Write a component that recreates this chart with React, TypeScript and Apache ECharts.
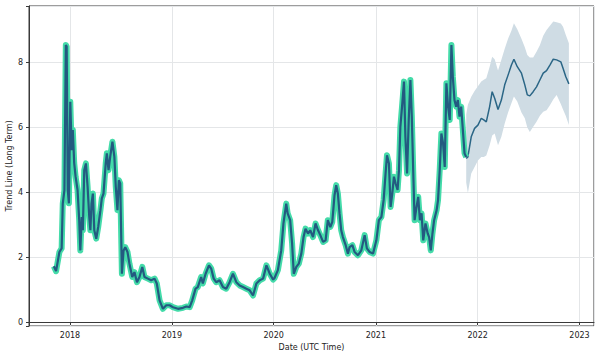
import React, { useEffect, useRef } from 'react';
import * as echarts from 'echarts';

const histDates = [
  '2017-11-04','2017-11-12','2017-11-24','2017-12-02','2017-12-06','2017-12-12','2017-12-17','2017-12-20','2017-12-24','2017-12-28',
  '2018-01-02','2018-01-07','2018-01-11','2018-01-16','2018-01-21','2018-01-28','2018-02-03','2018-02-07','2018-02-12','2018-02-16',
  '2018-02-21','2018-02-27','2018-03-05','2018-03-11','2018-03-15','2018-03-19','2018-03-24','2018-03-29','2018-04-05','2018-04-12',
  '2018-04-20','2018-04-25','2018-05-01','2018-05-09','2018-05-13','2018-05-19','2018-05-25','2018-06-02','2018-06-09','2018-06-14',
  '2018-06-20','2018-06-25','2018-06-30','2018-07-06','2018-07-12','2018-07-18','2018-07-26','2018-08-02','2018-08-12','2018-08-20',
  '2018-08-29','2018-09-07','2018-09-17','2018-09-25','2018-10-07','2018-10-19','2018-10-31','2018-11-08','2018-11-18','2018-11-30',
  '2018-12-12','2018-12-24','2019-01-05','2019-01-23','2019-02-10','2019-02-22','2019-03-06','2019-03-15','2019-03-27','2019-04-04',
  '2019-04-16','2019-04-22','2019-05-02','2019-05-14','2019-05-22','2019-05-31','2019-06-09','2019-06-21','2019-07-03','2019-07-15',
  '2019-07-27','2019-08-08','2019-08-20','2019-09-01','2019-09-13','2019-09-25','2019-10-07','2019-10-19','2019-10-31','2019-11-12',
  '2019-11-24','2019-12-06','2019-12-18','2019-12-30','2020-01-04','2020-01-16','2020-01-28','2020-02-05','2020-02-15','2020-02-20',
  '2020-02-29','2020-03-07','2020-03-13','2020-03-22','2020-03-31','2020-04-09','2020-04-17','2020-04-24','2020-05-03','2020-05-11',
  '2020-05-21','2020-05-30','2020-06-08','2020-06-16','2020-06-26','2020-07-05','2020-07-13','2020-07-22','2020-07-29','2020-08-06',
  '2020-08-12','2020-08-18','2020-08-24','2020-08-30','2020-09-05','2020-09-15','2020-09-23','2020-09-29','2020-10-09','2020-10-17',
  '2020-10-29','2020-11-10','2020-11-22','2020-11-30','2020-12-10','2020-12-22','2021-01-03','2021-01-12','2021-01-21','2021-01-29',
  '2021-02-05','2021-02-10','2021-02-17','2021-02-23','2021-03-01','2021-03-07','2021-03-13','2021-03-20','2021-03-25','2021-03-30',
  '2021-04-05','2021-04-12','2021-04-17','2021-04-23','2021-04-29','2021-05-05','2021-05-10','2021-05-15','2021-05-20','2021-05-27',
  '2021-06-02','2021-06-08','2021-06-14','2021-06-20','2021-06-28','2021-07-06','2021-07-11','2021-07-17','2021-07-23','2021-07-29',
  '2021-08-07','2021-08-12','2021-08-18','2021-08-24','2021-08-30','2021-09-05','2021-09-11','2021-09-17','2021-09-23','2021-09-29',
  '2021-10-04','2021-10-10','2021-10-16','2021-10-22','2021-10-28','2021-11-03','2021-11-09','2021-11-15','2021-11-21'
];
const histValues = [
  1.72,1.57,2.16,2.27,3.65,4.07,8.54,8.49,4.07,3.66,
  6.79,5.3,5.92,4.9,4.48,4.07,3.14,2.21,3.24,2.83,
  4.68,4.89,4.17,3.24,2.83,3.65,3.96,2.83,2.57,2.93,
  3.45,3.81,3.96,4.89,5.2,4.68,5.09,5.56,5.09,4.17,
  3.45,4.37,4.27,1.49,2.21,2.31,2.16,1.8,1.39,1.54,
  1.23,1.39,1.7,1.39,1.34,1.29,1.34,1.19,0.67,0.41,
  0.52,0.52,0.46,0.41,0.44,0.48,0.46,0.67,1.03,1.08,
  1.39,1.19,1.49,1.75,1.65,1.34,1.23,1.29,1.08,1.03,
  1.23,1.49,1.23,1.13,1.08,1.03,0.98,0.82,1.19,1.29,
  1.34,1.75,1.49,1.31,1.36,1.6,2.21,3.04,3.65,3.35,
  3.14,2.42,1.49,1.7,1.8,2.11,2.62,2.88,2.73,2.83,
  2.62,3.04,2.83,2.68,2.47,2.52,3.14,2.93,3.09,3.91,
  4.22,3.96,3.35,2.83,2.62,2.37,2.11,2.31,2.37,2.16,
  2.06,2.21,2.68,2.27,2.16,2.11,2.52,3.14,3.24,3.76,
  4.58,5.14,4.89,3.55,3.96,4.48,4.27,4.07,4.68,6.02,
  6.64,7.41,5.71,4.58,6.23,7.46,6.33,4.68,3.14,3.55,
  3.86,3.14,3.35,2.52,3.04,2.73,2.62,2.21,2.73,3.14,
  3.45,3.76,4.68,5.81,5.51,4.78,7.36,6.64,6.23,8.54,
  7.56,6.84,6.64,6.84,6.33,6.64,5.92,5.2,5.09
];

const fcDates = [
  '2021-11-21','2021-11-27','2021-12-09','2021-12-21','2022-01-02','2022-01-14','2022-01-23','2022-02-01','2022-02-13','2022-02-22',
  '2022-03-03','2022-03-15','2022-03-27','2022-04-08','2022-04-20','2022-05-02','2022-05-11','2022-05-23','2022-06-07','2022-06-19',
  '2022-06-28','2022-07-07','2022-07-19','2022-07-31','2022-08-12','2022-08-24','2022-09-05','2022-09-17','2022-09-29','2022-10-11',
  '2022-10-26','2022-11-03','2022-11-13','2022-11-24'
];
const fcValues = [
  5.04,5.09,5.71,5.97,6.07,6.28,6.23,6.17,6.64,7.1,
  6.9,6.55,6.84,7.31,7.61,7.92,8.1,7.87,7.67,7.31,
  7.0,6.97,7.1,7.25,7.46,7.67,7.75,7.92,8.1,8.08,
  8.02,7.82,7.56,7.34
];
const fcUpper = [
  6.4,6.7,6.94,7.12,7.27,7.41,7.47,7.51,7.87,8.18,
  8.1,7.75,8.08,8.42,8.73,8.98,9.21,9.02,8.73,8.47,
  8.23,8.15,8.15,8.33,8.53,8.82,9.0,9.13,9.26,9.24,
  9.2,9.1,8.85,8.59
];
const fcLower = [
  4.3,3.98,4.58,4.78,4.98,5.09,5.09,5.13,5.45,5.75,
  5.81,5.45,5.71,6.12,6.46,6.74,6.95,6.8,6.46,6.28,
  6.0,5.86,6.02,6.17,6.36,6.48,6.53,6.68,6.86,7.0,
  6.72,6.55,6.35,6.07
];

const xMin = '2017-08-07';
const xMax = '2023-02-22';
const yMin = -0.12;
const yMax = 9.74;

const FONT = 'DejaVu Sans';

export default function App() {
  const ref = useRef<HTMLDivElement>(null);
  useEffect(() => {
    if (!ref.current) return;
    const chart = echarts.init(ref.current, null, { renderer: 'svg' });
    const hist = histDates.map((d, i) => [d, histValues[i]]);
    const fc = fcDates.map((d, i) => [d, fcValues[i]]);
    const low = fcDates.map((d, i) => [d, fcLower[i]]);
    const span = fcDates.map((d, i) => [d, +(fcUpper[i] - fcLower[i]).toFixed(3)]);
    const year = 365 * 24 * 3600 * 1000;
    chart.setOption({
      animation: false,
      backgroundColor: '#ffffff',
      textStyle: { fontFamily: FONT },
      grid: {
        left: 29, right: 6, top: 6, bottom: 32,
        containLabel: false,
        outerBoundsMode: 'none',
        show: true, borderColor: '#3a3a3a', borderWidth: 1, backgroundColor: 'transparent',
      },
      xAxis: {
        type: 'time',
        min: xMin,
        max: xMax,
        minInterval: year,
        maxInterval: year * 1.01,
        name: 'Date (UTC Time)',
        nameLocation: 'middle',
        nameGap: 15,
        nameTextStyle: { fontSize: 8, color: '#222', fontFamily: FONT },
        axisLine: { show: true, lineStyle: { color: '#3a3a3a', width: 1 } },
        axisTick: { show: true, length: 3, lineStyle: { color: '#3a3a3a' } },
        axisLabel: {
          fontSize: 8, color: '#222', fontFamily: FONT, margin: 5,
          showMinLabel: false, showMaxLabel: false,
          formatter: '{yyyy}',
        },
        splitLine: { show: true, lineStyle: { color: '#e4e6e8', width: 1 } },
      },
      yAxis: {
        type: 'value',
        min: yMin,
        max: yMax,
        splitNumber: 5,
        name: 'Trend Line (Long Term)',
        nameLocation: 'middle',
        nameGap: 16,
        nameMoveOverlap: false,
        nameTextStyle: { fontSize: 8, color: '#222', fontFamily: FONT },
        axisLine: { show: true, lineStyle: { color: '#3a3a3a', width: 1 } },
        axisTick: { show: true, length: 3, lineStyle: { color: '#3a3a3a' } },
        axisLabel: {
          fontSize: 8, color: '#222', fontFamily: FONT, margin: 6,
          formatter: (v: number) => (Math.abs(v - Math.round(v)) < 1e-6 ? String(Math.round(v)) : ''),
        },
        splitLine: { show: true, lineStyle: { color: '#e4e6e8', width: 1 } },
      },
      series: [
        {
          type: 'line', data: low, stack: 'band', symbol: 'none', silent: true,
          lineStyle: { opacity: 0 }, z: 1,
        },
        {
          type: 'line', data: span, stack: 'band', symbol: 'none', silent: true,
          lineStyle: { opacity: 0 }, areaStyle: { color: '#cfdce4', opacity: 1 }, z: 1,
        },
        {
          type: 'line', data: fc, symbol: 'none', z: 3,
          lineStyle: { color: '#2b6686', width: 1.5 },
        },
        {
          type: 'line', data: hist, symbol: 'none', z: 4,
          lineStyle: { color: '#44dba9', width: 6, join: 'round' },
        },
        {
          type: 'line', data: hist, symbol: 'none', z: 5,
          lineStyle: { color: '#235a80', width: 2.2 },
        },
      ],
    });
    return () => chart.dispose();
  }, []);
  return (
    <div
      ref={ref}
      style={{ position: 'fixed', left: 0, top: 0, width: 600, height: 358, background: '#fff' }}
    />
  );
}
